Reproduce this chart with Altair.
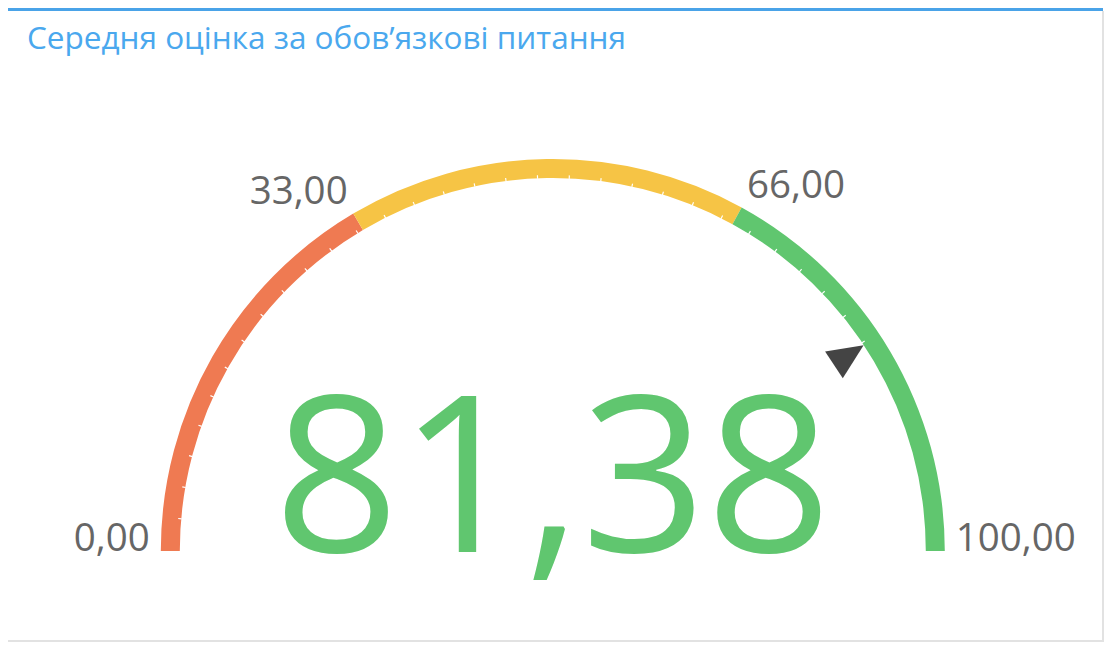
import math
import altair as alt
import pandas as pd

# ---- data ----
title_text = "Середня оцінка за обов’язкові питання"
band_starts = [0, 33, 66]
band_ends = [33, 66, 100]
band_colors = ["#ef7a52", "#f6c445", "#60c66f"]
label_values = [0, 33, 66, 100]
label_texts = ["0,00", "33,00", "66,00", "100,00"]
score = 81.38
score_text = "81,38"
tick_count = 37  # minor tick divisions along the dial

# ---- layout (view coordinates; the page adds an 8px margin) ----
W, H = 1096, 634
CX, CY = 544.8, 543.0
R_OUT, R_IN = 392, 373
R_LABEL = 403
R_POINTER = 355

bands = pd.DataFrame({"start": band_starts, "end": band_ends, "color": band_colors})
labels = pd.DataFrame({"v": label_values, "t": label_texts})
tick_vals = [k * 100 / tick_count for k in range(1, tick_count) if k * 100 / tick_count < score]
ticks = pd.DataFrame({"v": tick_vals})
ticks["v2"] = ticks["v"] + 0.1
pointer = pd.DataFrame({"v": [score]})
big = pd.DataFrame({"t": [score_text]})
title_df = pd.DataFrame({"t": [title_text]})

score_color = band_colors[-1]
for s, e, c in zip(band_starts, band_ends, band_colors):
    if s <= score <= e:
        score_color = c

theta_scale = alt.Scale(domain=[0, 100], range=[-math.pi / 2, math.pi / 2])
xs = alt.Scale(domain=[0, W], range=[0, W])
ys = alt.Scale(domain=[0, H], range=[0, H])

arc_layer = alt.Chart(bands).mark_arc(radius=R_OUT, radius2=R_IN).encode(
    theta=alt.Theta("start:Q", stack=None, scale=theta_scale),
    theta2="end:Q",
    color=alt.Color("color:N", scale=None),
    x=alt.value(CX), y=alt.value(CY),
)

tick_layer = alt.Chart(ticks).mark_arc(radius=R_IN + 3, radius2=R_IN - 0.5, color="white").encode(
    theta=alt.Theta("v:Q", stack=None, scale=theta_scale),
    theta2="v2:Q",
    x=alt.value(CX), y=alt.value(CY),
)

ang_expr = "PI * (1 - datum.v / 100)"

pointer_layer = alt.Chart(pointer).transform_calculate(
    ang=ang_expr
).transform_calculate(
    px=f"{CX} + {R_POINTER} * cos(datum.ang)",
    py=f"{CY} - {R_POINTER} * sin(datum.ang)",
    rot="datum.v * 1.8 - 90",
).mark_point(
    shape="M0,-1L-0.9,1L0.9,1Z", filled=True, color="#444444", size=1267, opacity=1, strokeWidth=0
).encode(
    x=alt.X("px:Q", scale=xs, axis=None),
    y=alt.Y("py:Q", scale=ys, axis=None),
    angle=alt.Angle("rot:Q", scale=None),
)

def label_layer(cond, align):
    return alt.Chart(labels).transform_filter(cond).transform_calculate(
        ang=ang_expr
    ).transform_calculate(
        lx=f"{CX} + {R_LABEL} * cos(datum.ang)",
        ly=f"{CY} - {R_LABEL} * sin(datum.ang)",
    ).mark_text(
        align=align, baseline="alphabetic", font="Open Sans", fontSize=38.5, color="#666666"
    ).encode(
        x=alt.X("lx:Q", scale=xs, axis=None),
        y=alt.Y("ly:Q", scale=ys, axis=None),
        text="t:N",
    )

left_labels = label_layer("datum.v < 50", "right")
right_labels = label_layer("datum.v > 50", "left")

big_layer = alt.Chart(big).mark_text(
    align="center", baseline="alphabetic", font="Open Sans", fontSize=219, color=score_color
).encode(x=alt.value(CX), y=alt.value(544), text="t:N")

title_layer = alt.Chart(title_df).mark_text(
    align="left", baseline="alphabetic", font="Open Sans", fontSize=31.5, color="#4aa8ee"
).encode(x=alt.value(19), y=alt.value(41), text="t:N")

frame_top = alt.Chart(title_df).mark_rule(color="#4aa3e8", strokeWidth=3).encode(
    x=alt.value(0), x2=alt.value(1095), y=alt.value(1.5)
)
frame_right = alt.Chart(title_df).mark_rule(color="#e2e2e2", strokeWidth=2).encode(
    x=alt.value(1095), y=alt.value(3), y2=alt.value(634)
)
frame_bottom = alt.Chart(title_df).mark_rule(color="#e2e2e2", strokeWidth=2).encode(
    x=alt.value(0), x2=alt.value(1096), y=alt.value(633)
)

chart = alt.layer(
    frame_top, frame_right, frame_bottom, title_layer,
    arc_layer, tick_layer, pointer_layer, left_labels, right_labels, big_layer,
).properties(
    width=W, height=H,
    autosize=alt.AutoSizeParams(type="none"),
    padding=0,
    background="white",
).configure_view(stroke=None)

chart.save("out.html", embed_options={"renderer": "svg", "actions": False})
